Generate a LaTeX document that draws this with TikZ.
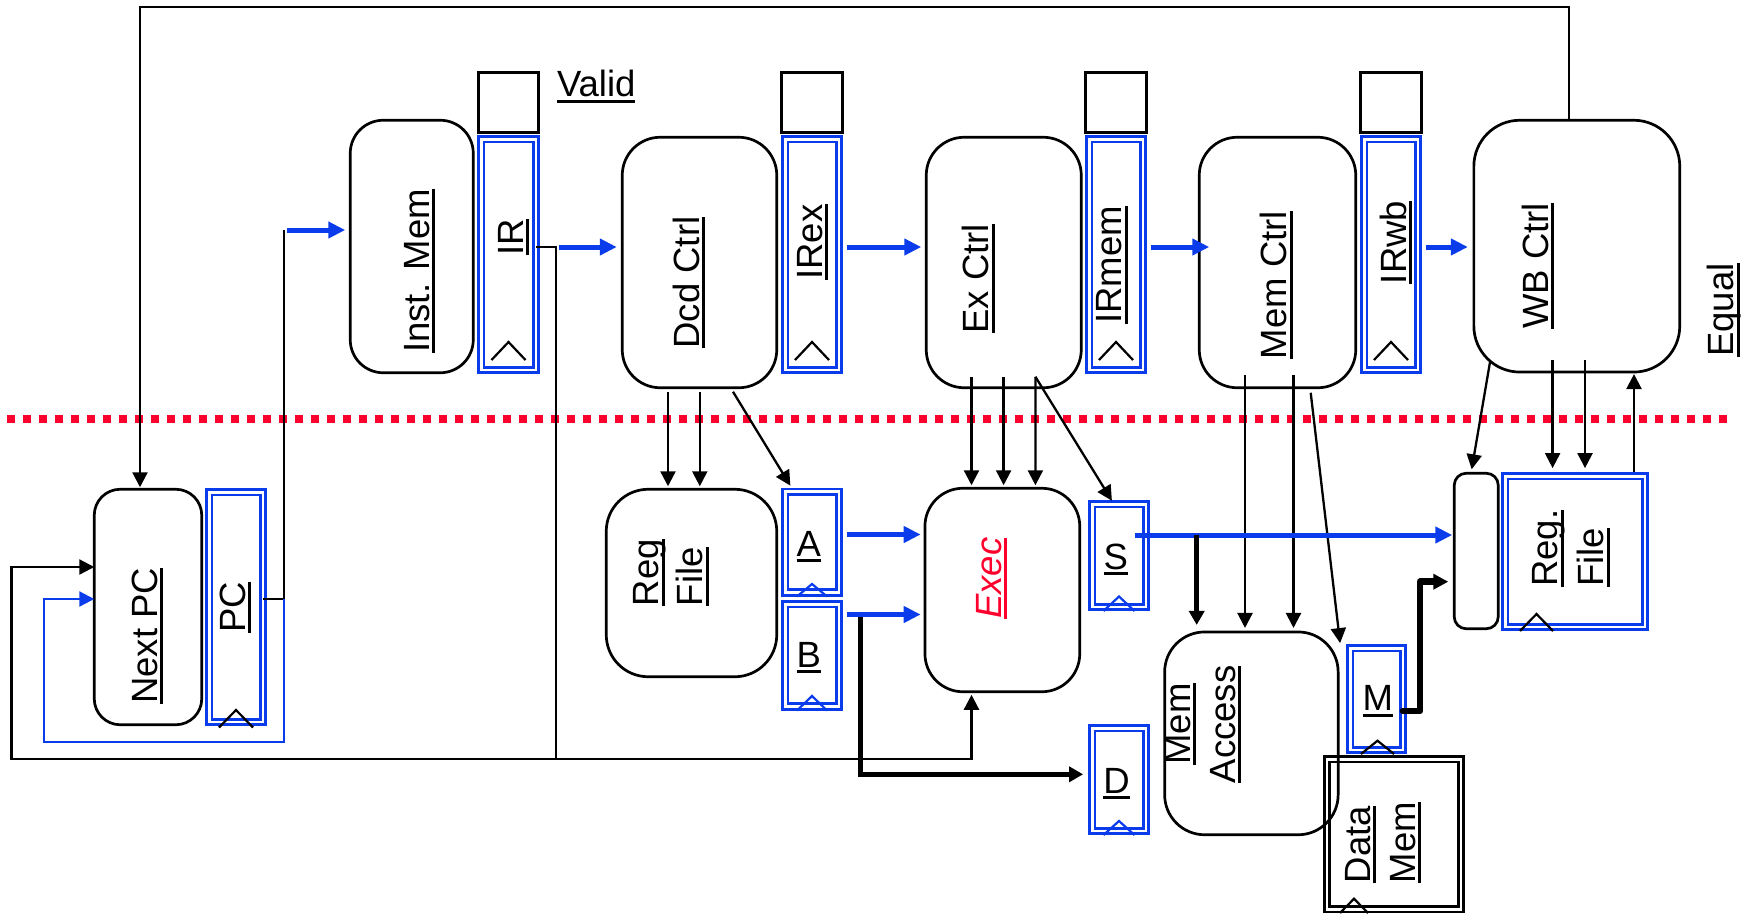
\documentclass[tikz,border=0pt]{standalone}
\usepackage{fontspec}
\setmainfont{Liberation Sans}
\usetikzlibrary{arrows.meta}
\definecolor{pblue}{RGB}{10,60,235}
\definecolor{pred}{RGB}{255,0,45}
\newsavebox\ulbox
\newcommand\ulx[1]{\sbox\ulbox{#1}\rlap{\rule[-6pt]{\wd\ulbox}{3pt}}\usebox\ulbox}
\begin{document}
\begin{tikzpicture}[x=1pt,y=-1pt,
  rbox/.style={draw, line width=2.7pt, inner sep=0, outer sep=0},
  vbox/.style={draw, line width=2.8pt, inner sep=0, outer sep=0, minimum width=60.3pt, minimum height=60.3pt},
  reg/.style={draw=pblue, double, double distance=2.8pt, line width=2.7pt, inner sep=0, outer sep=0},
  kreg/.style={draw=black, double, double distance=2.5pt, line width=2.8pt, inner sep=0, outer sep=0},
  lbl/.style={inner sep=0, outer sep=0, font=\fontsize{36.5pt}{44pt}\selectfont},
  thinl/.style={line width=2.3pt},
  arr/.style={-{Triangle[length=15pt,width=15pt]}},
  bthick/.style={draw=pblue, line width=5pt, -{Triangle[length=17pt,width=16pt]}},
  bthin/.style={draw=pblue, line width=2.3pt},
  kthick/.style={line width=5pt, -{Triangle[length=14pt,width=15pt]}},
  kvthick/.style={line width=6.5pt, line join=round, line cap=round, -{Triangle[length=15pt,width=15pt]}},
  clk/.style={line width=2.2pt},
]
\useasboundingbox (0,0) rectangle (1743,914);

% ---- rounded blocks
\node[rbox, rounded corners=26pt, minimum width=107.5pt, minimum height=235.5pt] (nextpc) at (148,607) {};
\node[rbox, rounded corners=33pt, minimum width=123pt, minimum height=252.5pt] (imem) at (411.75,246.5) {};
\node[rbox, rounded corners=38pt, minimum width=154.5pt, minimum height=250.5pt] (dcd) at (699.5,262.5) {};
\node[rbox, rounded corners=38pt, minimum width=155pt, minimum height=250.5pt] (exctrl) at (1003.75,262.5) {};
\node[rbox, rounded corners=38pt, minimum width=156.5pt, minimum height=250.5pt] (memctrl) at (1277.5,262.5) {};
\node[rbox, rounded corners=46pt, minimum width=205.9pt, minimum height=251.8pt] (wbctrl) at (1576.8,246.15) {};
\node[rbox, rounded corners=42pt, minimum width=170.5pt, minimum height=187.5pt] (regfile) at (691.5,583) {};
\node[rbox, rounded corners=38pt, minimum width=154.8pt, minimum height=203.5pt] (exec) at (1002.35,590) {};
\node[rbox, rounded corners=12pt, minimum width=44pt, minimum height=155.5pt] (mux) at (1476.25,551) {};

% ---- valid bits
\node[vbox] (v1) at (508.5,102.5) {};
\node[vbox] (v2) at (812,102.5) {};
\node[vbox] (v3) at (1116,102.5) {};
\node[vbox] (v4) at (1391,102.5) {};

% ---- registers
\node[reg, minimum width=54.8pt, minimum height=230.8pt] (ir) at (508.5,254.5) {};
\node[reg, minimum width=53.8pt, minimum height=230.8pt] (irex) at (812,254.5) {};
\node[reg, minimum width=53.8pt, minimum height=230.8pt] (irmem) at (1116,254.5) {};
\node[reg, minimum width=53.8pt, minimum height=230.8pt] (irwb) at (1391,254.5) {};
\node[reg, minimum width=53.8pt, minimum height=229.8pt] (pc) at (236,607) {};
\node[reg, minimum width=53.8pt, minimum height=100.8pt] (rA) at (812,542) {};
\node[reg, minimum width=53.8pt, minimum height=102.3pt] (rB) at (812,655.25) {};
\node[reg, minimum width=53.8pt, minimum height=102.8pt] (rS) at (1119,555.5) {};
\node[reg, minimum width=53.8pt, minimum height=102.8pt] (rD) at (1119,779.5) {};
\node[reg, minimum width=52.8pt, minimum height=101.8pt] (rM) at (1376.5,699) {};
\node[reg, minimum width=139.8pt, minimum height=150.8pt] (rfw) at (1575,551.5) {};
\node[kreg, minimum width=134.1pt, minimum height=150pt] (datamem) at (1393.85,834.4) {};
\node[rbox, rounded corners=40pt, minimum width=173.5pt, minimum height=202.8pt] (memacc) at (1251.4,733.35) {};

% ---- clock marks
\draw[clk] (491.5,360) -- (508.5,342) -- (525.5,360);
\draw[clk] (795,360) -- (812,342) -- (829,360);
\draw[clk] (1099,360) -- (1116,342) -- (1133,360);
\draw[clk] (1374,360) -- (1391,342) -- (1408,360);
\draw[clk] (219,727.5) -- (236,710) -- (253,727.5);
\draw[clk, pblue] (797,596.5) -- (812,584) -- (827,596.5);
\draw[clk, pblue] (797,710.5) -- (812,696) -- (827,710.5);
\draw[clk, pblue] (1103.5,611) -- (1119,596.5) -- (1134.5,611);
\draw[clk, pblue] (1103.5,835) -- (1119,821) -- (1134.5,835);
\draw[clk] (1361,754) -- (1377.5,740.7) -- (1394,754);
\draw[clk] (1520,631) -- (1536.5,614) -- (1553,631);
\draw[clk] (1340,913) -- (1354,898.7) -- (1368,913);

% ---- junction coordinates
\coordinate (topL) at (140,7);
\coordinate (topR) at (1569,7);
\coordinate (pcj) at (284,599);
\coordinate (imj) at (284,230);
\coordinate (lpb) at (284,742);
\coordinate (lpl) at (44,742);
\coordinate (irj) at (556,247);
\coordinate (irb) at (556,759);
\coordinate (llb) at (11.5,759);
\coordinate (bj) at (860,617);
\coordinate (bd) at (860,774.3);
\coordinate (sj) at (1196.7,535);
\coordinate (mj1) at (1420,711);
\coordinate (mj2) at (1420,581.7);

% ---- red stage divider
\draw[pred, line width=8pt, dash pattern=on 8pt off 8pt] (7,419) -- (1727,419);

% ---- thin black connectors
\draw[thinl, arr, shorten >=2pt] (wbctrl.north -| topR) -- (topR) -- (topL) -- (nextpc.north -| topL);
\draw[thinl] (pc.east |- pcj) -- (pcj) -- (imj);
\draw[thinl] (ir.east |- irj) -- (irj) -- (irb);
\draw[thinl, arr, shorten >=3pt] (irb) -| ([xshift=-30.85pt]exec.south);
\draw[thinl, arr] (irb) -- (llb) |- ([yshift=40pt]nextpc.west);

\draw[thinl, arr, shorten >=3pt] ([xshift=-31.5pt,yshift=-4pt]dcd.south) -- ([xshift=-23.5pt]regfile.north);
\draw[thinl, arr, shorten >=3pt] ([xshift=0.3pt,yshift=-4pt]dcd.south) -- ([xshift=8.3pt]regfile.north);
\draw[thinl, arr, shorten >=7pt] ([xshift=33.5pt,yshift=-4pt]dcd.south) -- ([xshift=-18pt]rA.north);

\draw[thinl, arr, shorten >=3pt] ([xshift=-32.25pt,yshift=11pt]exctrl.south) -- ([xshift=-30.85pt]exec.north);
\draw[thinl, arr, shorten >=3pt] ([xshift=-0.15pt,yshift=11pt]exctrl.south) -- ([xshift=1.25pt]exec.north);
\draw[thinl, arr, shorten >=3pt] ([xshift=31.65pt,yshift=11pt]exctrl.south) -- ([xshift=33.05pt]exec.north);
\draw[thinl, arr, shorten >=4pt] ([xshift=31.65pt,yshift=11pt]exctrl.south) -- ([xshift=-5pt]rS.north);

\draw[thinl, arr, shorten >=4pt] ([xshift=-32.5pt,yshift=12.75pt]memctrl.south) -- ([xshift=-6.4pt]memacc.north);
\draw[thinl, arr, shorten >=4pt] ([xshift=16pt,yshift=12.75pt]memctrl.south) -- ([xshift=42.1pt]memacc.north);
\draw[thinl, arr] ([xshift=33.2pt,yshift=-5pt]memctrl.south) -- ([xshift=-10pt,yshift=5pt]rM.north west);

\draw[thinl, arr, shorten >=4pt] ([xshift=-86.8pt,yshift=10pt]wbctrl.south) -- ([xshift=-5.25pt]mux.north);
\draw[thinl, arr, shorten >=8pt] ([xshift=-24.2pt,yshift=12pt]wbctrl.south) -- ([xshift=-22.4pt]rfw.north);
\draw[thinl, arr, shorten >=8pt] ([xshift=8.2pt,yshift=12pt]wbctrl.south) -- ([xshift=10pt]rfw.north);
\draw[thinl, arr, shorten >=2pt] ([xshift=59pt,yshift=4pt]rfw.north) -- ([xshift=57.2pt]wbctrl.south);

% ---- blue connectors
\draw[bthin, -{Triangle[length=15pt,width=15pt]}] (pcj) -- (lpb) -- (lpl) |- (nextpc.west |- pcj);
\draw[bthick, shorten >=5pt] ([xshift=3pt]imj) -- (imem.west |- imj);
\draw[bthick, shorten >=5.5pt] ([xshift=3pt]irj) -- (dcd.west |- irj);
\draw[bthick, shorten <=8pt, shorten >=5pt] (irex.east |- irj) -- (exctrl.west |- irj);
\draw[bthick, shorten <=8pt, shorten >=-10pt] (irmem.east |- irj) -- (memctrl.west |- irj);
\draw[bthick, shorten <=7.6pt, shorten >=6pt] (irwb.east |- irj) -- (wbctrl.west |- irj);
\draw[bthick, shorten <=8pt, shorten >=4.3pt] ([yshift=7.5pt]rA.east) -- ([yshift=55.5pt]exec.west);
\draw[bthick, shorten <=8pt, shorten >=4.3pt] ([yshift=40.75pt]rB.east) -- ([yshift=-24.5pt]exec.west);
\draw[bthick, shorten >=2pt] ([xshift=16pt,yshift=20.5pt]rS.center) -- ([yshift=16pt]mux.west);

% ---- thick black connectors
\draw[kthick, shorten >=9pt] (bj) -- (bd) -- (rD.west |- bd);
\draw[kthick, shorten >=7pt] (sj) -- (memacc.north -| sj);
\draw[kvthick, shorten >=6pt] (rM.east |- mj1) -- (mj1) -- (mj2) -- (mux.west |- mj2);

% ---- labels
\node[lbl, anchor=base west] (tvalid) at (557,96.7) {\ulx{Valid}};
\node[lbl, rotate=90, anchor=base] (tinst) at (429.4,271) {\ulx{Inst. Mem}};
\node[lbl, rotate=90, anchor=base] (tir) at (523.4,237) {\ulx{IR}};
\node[lbl, rotate=90, anchor=base] (tdcd) at (699.4,282.5) {\ulx{Dcd Ctrl}};
\node[lbl, rotate=90, anchor=base] (tirex) at (822.2,242) {\ulx{IRex}};
\node[lbl, rotate=90, anchor=base] (tex) at (988.7,278.7) {\ulx{Ex Ctrl}};
\node[lbl, rotate=90, anchor=base] (tirmem) at (1121.5,264.7) {\ulx{IRmem}};
\node[lbl, rotate=90, anchor=base] (tmem) at (1286.6,285) {\ulx{Mem Ctrl}};
\node[lbl, rotate=90, anchor=base] (tirwb) at (1406.4,242.5) {\ulx{IRwb}};
\node[lbl, rotate=90, anchor=base] (twb) at (1548,266) {\ulx{WB Ctrl}};
\node[lbl, rotate=90, anchor=base] (tequal) at (1733.6,310) {\ulx{Equal}};
\node[lbl, rotate=90, anchor=base] (tnext) at (157,635.8) {\ulx{Next PC}};
\node[lbl, rotate=90, anchor=base] (tpc) at (245,607.5) {\ulx{PC}};
\node[lbl, rotate=90, anchor=base, text=pred] (texec) at (1001,578.3) {\itshape\ulx{Exec}};
\node[lbl, rotate=90, anchor=base] (tmacc1) at (1190.2,724) {\ulx{Mem}};
\node[lbl, rotate=90, anchor=base] (tmacc2) at (1235,724.5) {\ulx{Access}};
\node[lbl, rotate=90, anchor=base west] (trf1) at (658.5,606) {\ulx{Reg}};
\node[lbl, rotate=90, anchor=base west] (trf2) at (702.5,606) {\ulx{File}};
\node[lbl, rotate=90, anchor=base west] (tdm1) at (1370,883.3) {\ulx{Data}};
\node[lbl, rotate=90, anchor=base west] (tdm2) at (1415,883.3) {\ulx{Mem}};
\node[lbl, rotate=90, anchor=base west] (trw1) at (1557.6,586.7) {\ulx{Reg.}};
\node[lbl, rotate=90, anchor=base west] (trw2) at (1603.5,586.7) {\ulx{File}};
\node[lbl, anchor=base] (ta) at (808.7,556) {\ulx{A}};
\node[lbl, anchor=base] (tb) at (808.7,667.3) {\ulx{B}};
\node[lbl, anchor=base] (ts) at (1115.8,569.3) {\ulx{S}};
\node[lbl, anchor=base] (td) at (1116.5,793.3) {\ulx{D}};
\node[lbl, anchor=base] (tm) at (1377.7,710.7) {\ulx{M}};
\end{tikzpicture}
\end{document}
